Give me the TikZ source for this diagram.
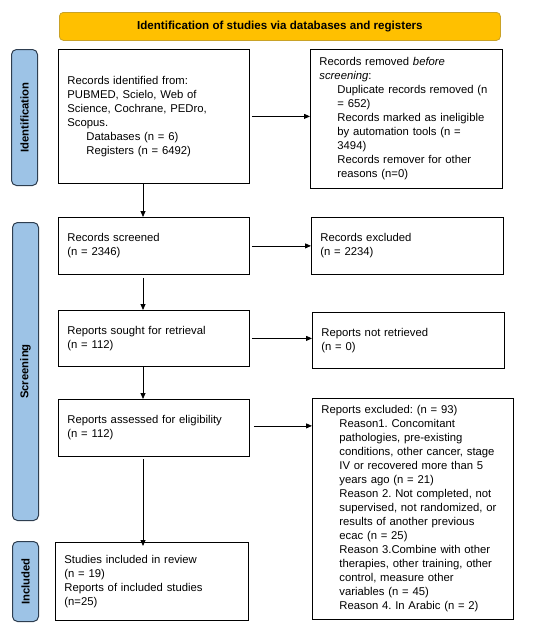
\documentclass[tikz,border=0pt]{standalone}
\usepackage{fontspec}
\setmainfont{Liberation Sans}
\frenchspacing
\usetikzlibrary{arrows.meta}
\definecolor{bannerfill}{HTML}{FFC000}
\definecolor{bannerdraw}{HTML}{C9A227}
\definecolor{sidefill}{HTML}{9DC3E6}
\definecolor{sidedraw}{HTML}{2E3E50}
\newcommand{\ind}{\hspace*{18pt}}
\tikzset{
  box/.style={draw=black, line width=0.8pt, rectangle, inner xsep=9pt, inner ysep=2pt,
    align=left, anchor=north west, font=\fontsize{11.3}{14}\selectfont\frenchspacing},
  side/.style={draw=sidedraw, fill=sidefill, line width=1pt, rounded corners=5pt,
    rectangle, minimum width=26pt, anchor=north west, inner sep=0pt},
  sidetext/.style={rotate=90, font=\fontsize{11.3}{13}\selectfont\bfseries},
  banner/.style={draw=bannerdraw, fill=bannerfill, line width=0.8pt, rounded corners=4pt,
    rectangle, minimum width=441pt, minimum height=28pt, anchor=north west,
    font=\fontsize{11.6}{13}\selectfont\bfseries},
  arr/.style={-{Triangle[length=6pt,width=5pt]}, line width=0.8pt}
}
\begin{document}
\begin{tikzpicture}[x=1pt,y=-1pt]
\useasboundingbox (0,0) rectangle (550,629);
\node[banner] (ban) at (59,12) {Identification of studies via databases and registers};

\node[side, minimum height=136pt] (sid) at (11,49) {};
\node[sidetext] at (sid.center) {Identification};
\node[side, minimum height=298pt] (sscr) at (12,222) {};
\node[sidetext] at (sscr.center) {Screening};
\node[side, minimum height=80pt] (sinc) at (12,541) {};
\node[sidetext] at (sinc.center) {Included};

\node[box, text width=173pt, minimum height=134pt] (ident) at (58,49)
 {Records identified from:\\ PUBMED, Scielo, Web of\\ Science, Cochrane, PEDro,\\ Scopus.\\ \hspace*{19pt}Databases (n = 6)\\ \hspace*{19pt}Registers (n = 6492)};
\node[box, text width=174pt, minimum height=139pt] (removed) at (310,49)
 {Records removed \textit{before}\\ \textit{screening}:\\ \ind Duplicate records removed (n\\ \ind = 652)\\ \ind Records marked as ineligible\\ \ind by automation tools (n =\\ \ind 3494)\\ \ind Records remover for other\\ \ind reasons (n=0)};

\node[box, text width=173pt, minimum height=57pt] (screened) at (58,217)
 {Records screened\\ (n = 2346)};
\node[box, text width=174pt, minimum height=57pt] (excl) at (311,217)
 {Records excluded\\ (n = 2234)};

\node[box, text width=173pt, minimum height=56pt] (sought) at (58,310)
 {Reports sought for retrieval\\ (n = 112)};
\node[box, text width=174pt, minimum height=56pt] (notret) at (312,312)
 {Reports not retrieved\\ (n = 0)};

\node[box, text width=173pt, minimum height=57pt] (assessed) at (58,399)
 {Reports assessed for eligibility\\ (n = 112)};
\node[box, text width=183pt, minimum height=221pt] (repexcl) at (312,398)
 {Reports excluded: (n = 93)\\ \ind Reason1. Concomitant\\ \ind pathologies, pre-existing\\ \ind conditions, other cancer, stage\\ \ind IV or recovered more than 5\\ \ind years ago (n = 21)\\ \ind Reason 2. Not completed, not\\ \ind supervised, not randomized, or\\ \ind results of another previous\\ \ind ecac (n = 25)\\ \ind Reason 3.Combine with other\\ \ind therapies, other training, other\\ \ind control, measure other\\ \ind variables (n = 45)\\ \ind Reason 4. In Arabic (n = 2)};

\node[box, text width=175pt, minimum height=78pt] (incl) at (55,542)
 {Studies included in review\\ (n = 19)\\ Reports of included studies\\ (n=25)};

\coordinate (d1) at (143,183);
\draw[arr] (ident.south -| d1) -- (screened.north -| d1);
\draw[arr] (screened.south -| d1) ++(0,3) -- (sought.north -| d1);
\draw[arr] (sought.south -| d1) -- (assessed.north -| d1);
\draw[arr] (assessed.south -| d1) ++(0,2) -- ([yshift=-4pt]incl.north -| d1);

\draw[arr] ([xshift=2pt]ident.east) -- (ident.east -| removed.west);
\draw[arr] ([xshift=2pt]screened.east) -- (screened.east -| excl.west);
\draw[arr] ([xshift=2pt]sought.east) -- (sought.east -| notret.west);
\draw[arr] ([xshift=4pt,yshift=2pt]assessed.east) -- ([yshift=2pt]assessed.east -| repexcl.west);
\end{tikzpicture}
\end{document}
